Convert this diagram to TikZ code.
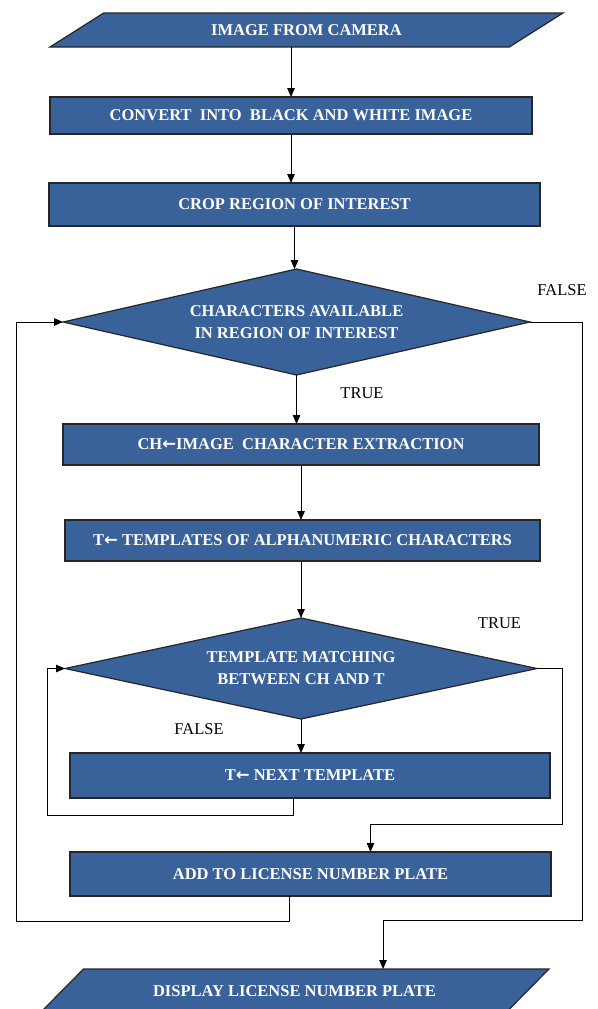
\documentclass[tikz,border=0pt]{standalone}
\usepackage{fontspec}
\setmainfont{Liberation Serif}
\newfontfamily\arrowfont{DejaVu Sans}
\usetikzlibrary{arrows.meta,positioning,shapes.geometric}
\definecolor{flowblue}{RGB}{57,97,154}
\newcommand{\getarrow}{{\arrowfont\bfseries ←}}

\begin{document}
\begin{tikzpicture}[
  x=1pt, y=1pt,
  base/.style={draw=black!85, line width=1.2pt, fill=flowblue, text=white,
               font=\fontsize{16.5}{22}\selectfont\bfseries, outer sep=0pt,
               align=center},
  proc/.style={base, rectangle, minimum height=41pt},
  dec/.style={base, diamond, aspect=4.4, inner sep=1pt},
  io/.style={base, trapezium, trapezium stretches body=true},
  arrow/.style={-{Triangle[length=9pt,width=7.5pt]}, line width=1pt},
  lbl/.style={font=\fontsize{16.5}{20}\selectfont},
]
\useasboundingbox (0,0) rectangle (597,-1009);

% --- Input / preprocessing ---
\node[io, trapezium left angle=18.3, trapezium right angle=161.7,
      minimum width=513pt, minimum height=34pt] (cam) at (306.5,-30) {IMAGE FROM CAMERA};
\node[proc, below=50pt of cam, xshift=-15.5pt, minimum width=482pt, minimum height=37pt] (bw)
  {CONVERT\ \ INTO\ \ BLACK AND WHITE IMAGE};
\node[proc, below=49pt of bw, xshift=3.5pt, minimum width=491pt, minimum height=43pt] (crop)
  {CROP REGION OF INTEREST};

% --- Character loop ---
\node[dec, below=43pt of crop, xshift=2pt, minimum width=467pt, minimum height=106pt] (avail)
  {CHARACTERS AVAILABLE\\IN REGION OF INTEREST};
\node[proc, below=49pt of avail, xshift=4.5pt, minimum width=476pt] (extract)
  {CH\getarrow IMAGE\ \ CHARACTER EXTRACTION};
\node[proc, below=55pt of extract, xshift=1.5pt, minimum width=475pt] (tmpl)
  {T\getarrow\ TEMPLATES OF ALPHANUMERIC CHARACTERS};

% --- Template loop ---
\node[dec, below=57pt of tmpl, xshift=-1.5pt, minimum width=472pt, minimum height=101pt] (match)
  {TEMPLATE MATCHING\\BETWEEN CH AND T};
\node[proc, below=34pt of match, xshift=9pt, minimum width=480pt, minimum height=45pt] (next)
  {T\getarrow\ NEXT TEMPLATE};
\node[proc, below=54pt of next, xshift=0.5pt, minimum width=481pt, minimum height=44pt] (add)
  {ADD TO LICENSE NUMBER PLATE};

% --- Output ---
\node[io, below=73pt of add, xshift=-16pt, trapezium left angle=22.2, trapezium right angle=157.8,
      minimum width=509pt, minimum height=44pt] (disp) {DISPLAY LICENSE NUMBER PLATE};

% --- Arrows ---
\draw[arrow] (cam.south -| bw.north) -- (bw.north);
\draw[arrow] (bw.south) -- (bw.south |- crop.north);
\draw[arrow] (crop.south) -- (crop.south |- avail.north);
\draw[arrow] (avail.south) -- (avail.south |- extract.north);
\draw[arrow] (extract.south) -- (extract.south |- tmpl.north);
\draw[arrow] (tmpl.south -| match.north) -- (match.north);
\draw[arrow] (match.south) -- (match.south |- next.north);

% --- Loop arrows ---
\draw[arrow] ([xshift=-17pt]next.south) -- ++(0,-17pt) -| ([xshift=-18pt]match.west) -- (match.west);
\draw[arrow] (match.east) -- ++(25pt,0) |- ([xshift=60pt,yshift=28pt]add.north) -- ([xshift=60pt]add.north);
\draw[arrow] ([xshift=-21.5pt]add.south) -- ++(0,-25pt) -| ([xshift=-47pt]avail.west) -- (avail.west);
\draw[arrow] (avail.east) -- ++(52pt,0) |- ([xshift=88.5pt,yshift=49pt]disp.north) -- ([xshift=88.5pt]disp.north);

% --- Labels ---
\node[lbl] (f1) at ([xshift=32pt,yshift=32pt]avail.east) {FALSE};
\node[lbl] (t1) at ([xshift=65.5pt,yshift=-18pt]avail.south) {TRUE};
\node[lbl] (t2) at ([xshift=-37.5pt,yshift=45.5pt]match.east) {TRUE};
\node[lbl] (f2) at ([xshift=-102pt,yshift=-10pt]match.south) {FALSE};
\end{tikzpicture}
\end{document}
